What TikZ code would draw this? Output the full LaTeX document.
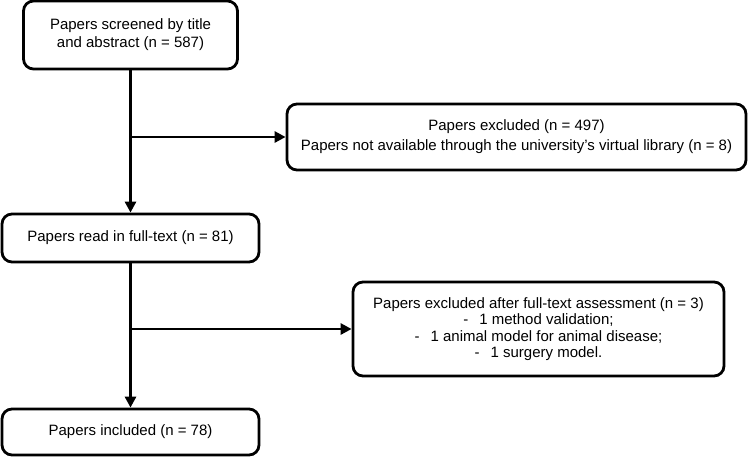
\documentclass[tikz,border=0pt]{standalone}
\usepackage{fontspec}
\setmainfont{Liberation Sans}
\usetikzlibrary{arrows.meta}
\begin{document}
\begin{tikzpicture}[x=1pt,y=-1pt,
  flowbox/.style={draw=black, line width=2.8pt, rounded corners=10pt, align=center, inner sep=0pt, text=black},
  flowline/.style={line width=2.8pt, draw=black},
  flowarrow/.style={flowline, -{Triangle[length=11pt,width=11pt]}}]
\useasboundingbox (0,0) rectangle (749,458);
\node[flowbox, minimum width=214pt, minimum height=68pt, font=\fontsize{15pt}{18pt}\selectfont] (b1) at (130.5,35) {Papers screened by title\\and abstract (n = 587)};
\node[flowbox, minimum width=459pt, minimum height=66pt, font=\fontsize{15pt}{20pt}\selectfont] (b2) at (516.5,137) {Papers excluded (n = 497)\\Papers not available through the university’s virtual library (n = 8)};
\node[flowbox, minimum width=257pt, minimum height=48pt, font=\fontsize{15pt}{18pt}\selectfont] (b3) at (130.5,238) {Papers read in full-text (n = 81)};
\node[flowbox, minimum width=371pt, minimum height=94pt, font=\fontsize{15pt}{16.5pt}\selectfont] (b4) at (538.5,329) {Papers excluded after full-text assessment (n = 3)\\-\hspace{11pt}1 method validation;\\-\hspace{11pt}1 animal model for animal disease;\\-\hspace{11pt}1 surgery model.};
\node[flowbox, minimum width=257pt, minimum height=46pt, font=\fontsize{15pt}{18pt}\selectfont] (b5) at (130.5,432) {Papers included (n = 78)};
\coordinate (j1) at (130.5,137);
\coordinate (j2) at (130.5,329);
\draw[flowarrow] (b1.south) -- (b3.north);
\draw[flowarrow] (b3.south) -- (b5.north);
\draw[flowarrow] (j1) -- (b2.west);
\draw[flowarrow] (j2) -- (b4.west);
\end{tikzpicture}
\end{document}
